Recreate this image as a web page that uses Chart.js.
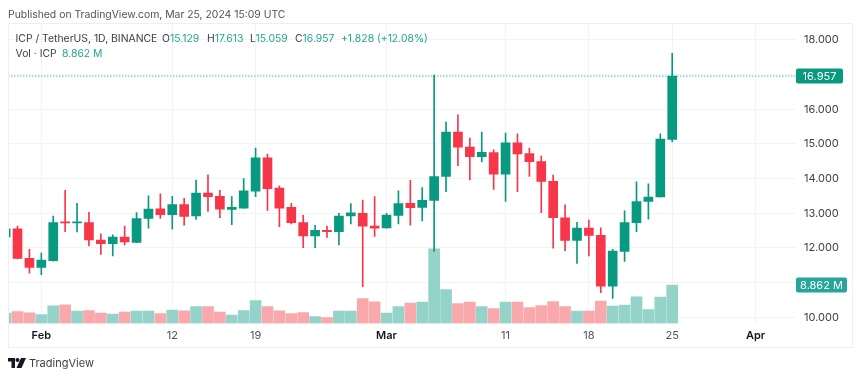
<!DOCTYPE html>
<html>
<head>
<meta charset="utf-8">
<title>ICP / TetherUS</title>
<script src="https://cdn.jsdelivr.net/npm/chart.js@4/dist/chart.umd.min.js"></script>
<style>
  body { margin: 0; background: #fff; font-family: Inter, "Liberation Sans", sans-serif; }
  #wrap { position: relative; width: 860px; height: 378px; overflow: hidden; }
  canvas { position: absolute; left: 0; top: 0; }
  #frame { position: absolute; left: 8px; top: 23px; width: 843px; height: 323px; border: 1px solid #eeeff1; }
  .txt { position: absolute; white-space: pre; font-size: 10.4px; line-height: 14px; color: #3b3f48; }
  .up { color: #22a68f; }
  #logo { position: absolute; left: 8px; top: 358px; }
</style>
</head>
<body>
<div id="wrap">
  <canvas id="chart" width="860" height="378"></canvas>
  <div id="frame"></div>
  <div class="txt" style="left:8px;top:8px;color:#50535e">Published on TradingView.com, Mar 25, 2024 15:09 UTC</div>
  <div class="txt" style="left:15.5px;top:32px">ICP / TetherUS, 1D, BINANCE</div>
  <div class="txt" style="left:162px;top:32px">O<span class="up">15.129</span></div>
  <div class="txt" style="left:207px;top:32px">H<span class="up">17.613</span></div>
  <div class="txt" style="left:250px;top:32px">L<span class="up">15.059</span></div>
  <div class="txt" style="left:295px;top:32px">C<span class="up">16.957</span></div>
  <div class="txt up" style="left:341px;top:32px">+1.828 (+12.08%)</div>
  <div class="txt" style="left:15.5px;top:47px">Vol · ICP</div>
  <div class="txt up" style="left:62px;top:47px">8.862 M</div>
  <svg id="logo" width="18" height="10" viewBox="0 0 36 20" fill="#131722">
    <path d="M0 0h14v20H7V7H0z"/><circle cx="19" cy="4" r="4"/><path d="M26 0h10l-9 20H17z"/>
  </svg>
  <div class="txt" style="left:29px;top:356px;font-size:11px;color:#3b3f48">TradingView</div>
</div>

<script>
////////////////// Data //////////////////
const dates = [
  '2024-01-29', '2024-01-30', '2024-01-31',
  '2024-02-01', '2024-02-02', '2024-02-03', '2024-02-04', '2024-02-05', '2024-02-06', '2024-02-07',
  '2024-02-08', '2024-02-09', '2024-02-10', '2024-02-11', '2024-02-12', '2024-02-13', '2024-02-14',
  '2024-02-15', '2024-02-16', '2024-02-17', '2024-02-18', '2024-02-19', '2024-02-20', '2024-02-21',
  '2024-02-22', '2024-02-23', '2024-02-24', '2024-02-25', '2024-02-26', '2024-02-27', '2024-02-28', '2024-02-29',
  '2024-03-01', '2024-03-02', '2024-03-03', '2024-03-04', '2024-03-05', '2024-03-06', '2024-03-07',
  '2024-03-08', '2024-03-09', '2024-03-10', '2024-03-11', '2024-03-12', '2024-03-13', '2024-03-14',
  '2024-03-15', '2024-03-16', '2024-03-17', '2024-03-18', '2024-03-19', '2024-03-20', '2024-03-21',
  '2024-03-22', '2024-03-23', '2024-03-24', '2024-03-25'
];
const opens = [
  12.32, 12.55, 11.70,
  11.44, 11.63, 12.75, 12.72, 12.73, 12.23, 12.12,
  12.31, 12.16, 12.85, 13.13, 12.96, 13.25, 12.92,
  13.58, 13.49, 13.11, 13.15, 13.64, 14.60, 13.73,
  13.17, 12.73, 12.35, 12.51, 12.47, 12.92, 13.00, 12.63,
  12.58, 12.94, 13.29, 13.17, 13.37, 14.06, 15.34,
  14.91, 14.63, 14.75, 14.13, 15.03, 14.72, 14.49,
  13.92, 12.87, 12.22, 12.57, 12.36, 10.90, 11.90,
  12.73, 13.34, 13.47, 15.129
];
const highs = [
  12.60, 12.63, 11.96,
  11.85, 12.92, 13.66, 13.29, 13.03, 12.41, 12.38,
  12.63, 13.02, 13.50, 13.56, 13.49, 13.43, 13.96,
  14.11, 13.66, 13.48, 14.00, 14.88, 14.71, 13.79,
  13.29, 12.94, 12.65, 12.63, 13.00, 13.28, 13.38, 13.48,
  13.00, 13.65, 13.95, 13.74, 16.99, 15.63, 15.84,
  15.17, 15.34, 14.83, 15.31, 15.29, 14.88, 14.65,
  14.10, 13.24, 12.74, 12.80, 12.58, 11.96, 13.07,
  13.91, 13.85, 15.29, 17.613
];
const lows = [
  12.30, 11.68, 11.27,
  11.23, 11.62, 12.47, 12.46, 12.06, 11.81, 11.77,
  12.09, 12.15, 12.57, 12.85, 12.54, 12.66, 12.82,
  13.05, 12.87, 12.67, 13.15, 13.48, 13.08, 12.61,
  12.69, 12.01, 12.01, 12.30, 12.09, 12.69, 10.88, 12.33,
  12.57, 12.69, 12.66, 12.78, 11.90, 13.62, 14.37,
  13.96, 14.48, 13.69, 13.34, 13.62, 14.06, 13.02,
  11.99, 11.92, 11.55, 11.77, 10.71, 10.54, 11.61,
  12.47, 12.83, 13.47, 15.059
];
const closes = [
  12.55, 11.70, 11.44,
  11.65, 12.73, 12.72, 12.75, 12.23, 12.12, 12.31,
  12.17, 12.85, 13.12, 12.96, 13.25, 12.91, 13.58,
  13.48, 13.12, 13.17, 13.65, 14.60, 13.71, 13.15,
  12.73, 12.35, 12.51, 12.47, 12.92, 13.01, 12.63, 12.57,
  12.95, 13.28, 13.16, 13.37, 14.06, 15.34, 14.91,
  14.63, 14.76, 14.13, 15.03, 14.71, 14.49, 13.92,
  12.87, 12.22, 12.57, 12.36, 10.90, 11.91, 12.73,
  13.34, 13.47, 15.14, 16.957
];
// million ICP
const volumes = [
  2.37, 2.76, 2.46,
  2.07, 4.07, 4.30, 2.83, 2.99, 2.37, 2.14,
  2.60, 2.83, 2.83, 2.30, 3.06, 2.92, 3.91,
  3.91, 2.60, 1.91, 2.99, 5.29, 3.91, 2.92,
  2.30, 2.53, 1.61, 1.38, 2.83, 2.83, 5.75, 4.99,
  2.37, 3.91, 4.67, 4.90, 17.15, 7.83, 4.60,
  4.90, 3.91, 3.45, 4.90, 4.90, 3.68, 4.14,
  5.06, 3.91, 2.83, 2.83, 5.13, 3.98, 4.21,
  6.15, 3.22, 6.05, 8.862
];
const tickDates = ['2024-02-01', '2024-02-12', '2024-02-19', '2024-03-01', '2024-03-11', '2024-03-18', '2024-03-25', '2024-04-01'];
const tickLabels = ['Feb', '12', '19', 'Mar', '11', '18', '25', 'Apr'];
const boldLabels = ['Feb', 'Mar', 'Apr'];
const priceTicks = [10, 11, 12, 13, 14, 15, 16, 17, 18];
const hiddenPriceLabels = [11, 17]; // covered by the tags on the axis
const lastPrice = 16.957;
const lastVolume = 8.862;

////////////////// Colors //////////////////
const upColor = '#089981';
const downColor = '#f7364a';
const volUp = '#93d3ca';
const volDown = '#f9a9ab';
const gridColor = '#f2f3f5';

const dayNum = (d) => Date.parse(d) / 86400000;
const xs = dates.map(dayNum);
const isUp = closes.map((c, i) => c >= opens[i]);
const tickDays = tickDates.map(dayNum);
const isBold = (ctx) => ctx.tick && boldLabels.includes(ctx.tick.label);

// tags on the price axis, placed from the axis scales
const axisTags = {
  id: 'axisTags',
  afterDraw(chart) {
    const c = chart.ctx;
    const tag = (y, w, color, text) => {
      c.save();
      c.fillStyle = color;
      c.beginPath();
      c.roundRect(796, y - 7.5, w, 15, 2);
      c.fill();
      c.fillStyle = '#fff';
      c.font = '11px Inter';
      c.textAlign = 'center';
      c.textBaseline = 'middle';
      c.fillText(text, 796 + w / 2, y + 0.5);
      c.restore();
    };
    tag(chart.scales.y.getPixelForValue(lastPrice), 47, upColor, lastPrice.toFixed(3));
    tag(chart.scales.yVol.getPixelForValue(lastVolume), 51, '#26a69a', lastVolume.toFixed(3) + ' M');
  }
};

new Chart(document.querySelector('#chart'), {
  type: 'bar',
  plugins: [axisTags],
  data: {
    datasets: [
      {
        // last price line
        type: 'line',
        data: [{ x: dayNum('2024-01-01'), y: lastPrice }, { x: dayNum('2024-05-01'), y: lastPrice }],
        borderColor: upColor,
        borderWidth: 1,
        borderDash: [1, 2],
        pointRadius: 0,
        order: 4
      },
      {
        label: 'Vol',
        yAxisID: 'yVol',
        grouped: false,
        data: xs.map((x, i) => ({ x: x, y: volumes[i] })),
        backgroundColor: isUp.map(u => u ? volUp : volDown),
        barThickness: 11,
        order: 3
      },
      {
        label: 'Wick',
        grouped: false,
        data: xs.map((x, i) => ({ x: x, y: [lows[i], highs[i]] })),
        backgroundColor: isUp.map(u => u ? upColor : downColor),
        barThickness: 1,
        order: 2
      },
      {
        label: 'Body',
        grouped: false,
        data: xs.map((x, i) => ({ x: x, y: [opens[i], closes[i]] })),
        backgroundColor: isUp.map(u => u ? upColor : downColor),
        barThickness: 9,
        order: 1
      }
    ]
  },
  options: {
    responsive: false,
    animation: false,
    layout: { padding: { left: 8, top: 24, right: 0, bottom: 0 } },
    plugins: { legend: { display: false }, tooltip: { enabled: false } },
    scales: {
      x: {
        type: 'linear',
        offset: false,
        min: dayNum('2024-01-29') + 0.2,
        max: dayNum('2024-04-04') + 0.4,
        afterBuildTicks: (s) => { s.ticks = tickDays.map(v => ({ value: v })); },
        afterFit: (s) => { s.height = 54.5; },
        grid: { color: gridColor, drawTicks: false, offset: false },
        border: { display: false },
        ticks: {
          autoSkip: false,
          maxRotation: 0,
          padding: 6,
          color: (ctx) => isBold(ctx) ? '#131722' : '#50535e',
          font: (ctx) => ({
            family: 'Inter',
            size: 11,
            weight: isBold(ctx) ? '600' : '400'
          }),
          callback: (v) => tickLabels[tickDays.indexOf(v)]
        }
      },
      y: {
        position: 'right',
        min: 9.82,
        max: 18.46,
        afterBuildTicks: (s) => { s.ticks = priceTicks.map(v => ({ value: v })); },
        afterFit: (s) => { s.width = 64; },
        grid: { color: gridColor, drawTicks: false },
        border: { display: false },
        ticks: {
          autoSkip: false,
          padding: 8,
          color: '#3b3f48',
          font: { family: 'Inter', size: 11 },
          callback: (v) => hiddenPriceLabels.includes(v) ? '' : v.toFixed(3)
        }
      },
      yVol: { display: false, min: 0, max: 68.9 }
    }
  }
});
</script>
</body>
</html>
